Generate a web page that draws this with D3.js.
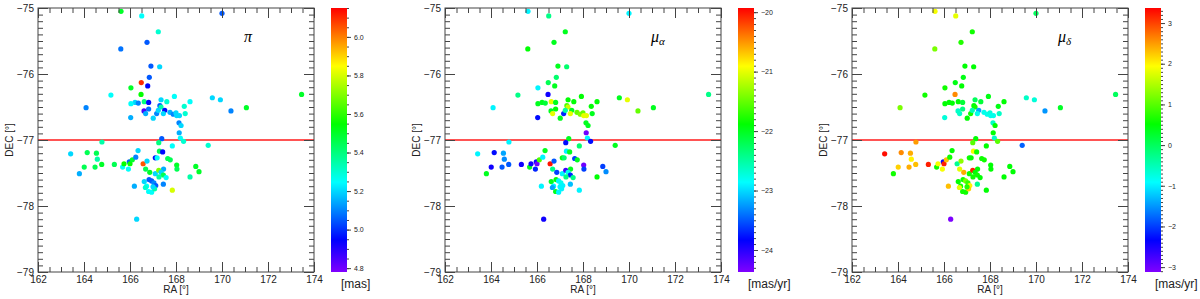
<!DOCTYPE html>
<html><head><meta charset="utf-8">
<script src="https://cdn.jsdelivr.net/npm/d3@7"></script>
<style>
html,body{margin:0;padding:0;background:#fff;}
svg{display:block;}
text{font-family:"Liberation Sans",Arial,Helvetica,sans-serif;}
</style></head>
<body>
<svg id="c" width="1200" height="299"></svg>
<script>
// ---- data ----
const ra = [165.61,166.51,170.0,167.23,166.74,165.6,166.91,167.29,166.84,166.49,166.77,166.04,166.48,165.17,166.62,166.81,166.22,166.04,166.36,164.09,167.35,167.6,167.93,168.61,169.58,169.93,170.39,171.06,167.3,167.35,166.61,166.81,166.68,166.03,167.01,167.16,167.23,167.51,167.45,167.74,167.88,168.0,168.03,168.15,168.4,168.36,168.13,168.22,168.14,168.19,167.38,168.33,164.78,167.25,167.84,169.4,173.46,
 163.42,164.14,164.54,164.58,163.8,164.01,164.48,164.77,165.32,165.68,165.74,165.97,166.0,165.93,166.1,166.25,166.35,166.19,166.29,166.57,166.74,166.68,166.86,167.1,167.18,167.28,167.42,167.64,167.75,168.03,168.04,167.46,167.1,167.25,167.35,167.45,167.57,167.26,168.61,168.86,169.0,167.84,167.45,166.62,166.83,166.94,167.04,167.12,166.72,166.67,166.81,166.94,167.07,167.0];
const dec = [-75.05,-75.12,-75.08,-75.36,-75.52,-75.62,-75.88,-75.89,-76.05,-76.13,-76.18,-76.21,-76.31,-76.32,-76.42,-76.43,-76.43,-76.45,-76.44,-76.51,-76.39,-76.42,-76.34,-76.42,-76.36,-76.39,-76.56,-76.51,-76.48,-76.5,-76.56,-76.53,-76.6,-76.66,-76.67,-76.6,-76.55,-76.55,-76.6,-76.58,-76.61,-76.59,-76.63,-76.63,-76.6,-76.49,-76.74,-76.78,-76.89,-76.97,-76.98,-77.02,-77.03,-77.04,-77.09,-77.08,-76.31,
 -77.21,-77.19,-77.2,-77.29,-77.51,-77.41,-77.41,-77.37,-77.37,-77.41,-77.36,-77.33,-77.36,-77.44,-77.3,-77.26,-77.16,-77.7,-78.2,-77.36,-77.32,-77.44,-77.49,-77.27,-77.27,-77.17,-77.18,-77.28,-77.3,-77.38,-77.44,-77.44,-77.51,-77.46,-77.49,-77.53,-77.57,-77.56,-77.56,-77.4,-77.48,-77.76,-77.67,-77.63,-77.6,-77.62,-77.65,-77.69,-77.7,-77.72,-77.78,-77.79,-77.74,-77.71];
const plx = [5.5,5.25,5.05,5.3,5.05,5.08,5.05,5.2,5.05,6.1,4.95,5.5,5.55,5.25,5.4,4.95,5.2,5.25,5.1,5.1,5.2,5.3,5.25,5.25,5.2,5.2,5.1,5.5,5.05,5.35,4.85,5.08,5.15,5.15,5.2,5.1,5.2,4.95,5.2,5.15,5.1,5.2,5.2,5.2,5.3,5.3,5.1,5.2,5.15,5.25,5.05,5.3,5.35,5.4,5.25,5.3,5.5,
 5.2,5.45,5.45,5.35,5.15,5.45,5.45,5.5,5.45,5.25,5.55,5.05,5.55,5.25,5.5,5.1,5.2,5.15,5.2,6.05,5.2,5.45,5.5,4.95,5.25,5.45,4.95,5.45,5.45,5.5,5.45,5.15,5.2,5.7,5.2,5.45,5.25,5.35,5.35,5.5,5.5,5.8,5.1,5.2,5.05,5.05,5.1,5.05,5.25,5.3,5.25,5.25,5.35,5.2];
const pmra = [-22.9,-22.4,-22.9,-22.0,-22.0,-21.9,-22.0,-22.3,-22.3,-22.2,-22.0,-22.9,-23.9,-22.4,-21.0,-22.0,-22.0,-22.0,-22.1,-22.9,-21.9,-21.9,-21.9,-21.9,-22.0,-21.0,-21.5,-22.0,-21.6,-21.1,-22.0,-21.9,-21.0,-23.8,-22.0,-23.7,-22.5,-22.0,-21.0,-21.5,-21.4,-21.5,-21.0,-21.0,-22.0,-21.9,-22.0,-22.0,-24.3,-22.9,-22.0,-23.8,-22.9,-23.8,-22.3,-22.0,-22.4,
 -22.9,-23.8,-23.2,-23.3,-22.0,-23.9,-23.5,-23.5,-23.9,-22.0,-23.9,-23.8,-24.3,-23.7,-21.6,-22.9,-22.0,-22.9,-23.9,-20.0,-23.5,-22.4,-23.6,-21.9,-22.3,-22.9,-22.0,-23.6,-22.0,-24.3,-23.6,-22.0,-22.9,-24.1,-22.8,-23.7,-22.4,-22.4,-21.9,-23.6,-23.3,-22.9,-23.1,-22.0,-21.9,-22.9,-22.8,-22.9,-22.9,-23.2,-22.0,-22.9,-22.9,-22.9];
const pmdec = [1.9,1.8,0.0,0.6,0.7,1.2,0.5,0.5,0.4,0.4,0.5,0.6,2.6,0.6,0.5,0.2,0.5,0.5,0.5,1.2,0.0,0.2,0.4,0.5,-0.6,-0.7,-1.5,0.3,0.5,0.6,-0.6,-0.2,-0.6,-0.7,0.5,0.6,-0.5,-1.4,-0.8,-0.8,-0.8,-0.7,-0.8,-0.8,-0.6,0.4,-0.6,0.5,0.5,-0.6,0.5,1.0,2.5,1.0,0.5,-1.8,0.0,
 3.3,2.6,2.4,2.0,0.6,2.2,2.4,2.3,3.2,0.6,1.9,-2.3,3.2,1.9,2.3,0.6,0.5,2.3,-3.1,-0.3,1.3,1.8,2.4,0.6,0.5,1.9,0.6,0.6,0.6,0.5,0.5,0.5,0.6,3.2,0.5,0.6,0.5,0.6,0.5,0.5,0.5,0.5,-0.3,0.5,0.6,1.2,0.8,2.0,0.6,1.8,0.6,0.6,2.2,0.7];

const xTicks = [162,164,166,168,170,172,174];
const yTicks = [-75,-76,-77,-78,-79];
const cbPlxTicks = [4.8,5.0,5.2,5.4,5.6,5.8,6.0];
const cbPmraTicks = [-24,-23,-22,-21,-20];
const cbPmdecTicks = [-3,-2,-1,0,1,2,3];
const cutDec = -77;

const panels = [
  {left:38,  vals:plx,   dom:[4.78,6.15],     ticks:cbPlxTicks,   minor:0.05, fmt:d3.format(".1f"), unit:"[mas]",    sym:"π", sub:null},
  {left:445, vals:pmra,  dom:[-24.37,-19.93], ticks:cbPmraTicks,  minor:0.1,  fmt:d3.format("d"),   unit:"[mas/yr]", sym:"μ", sub:"α"},
  {left:852, vals:pmdec, dom:[-3.12,3.37],    ticks:cbPmdecTicks, minor:0.1,  fmt:d3.format("d"),   unit:"[mas/yr]", sym:"μ", sub:"δ"}
];

const T0=8, W=276, H=264;
const svg = d3.select("#c");
const defs = svg.append("defs");
const cmapStops = [0,0.12,0.34,0.56,0.78,1];
const cmapCols = ["#8000ff","#0000ff","#00ffff","#00ff00","#ffff00","#ff0000"];
const cmap = d3.scaleLinear().domain(cmapStops).range(cmapCols).interpolate(d3.interpolateRgb).clamp(true);

const grad = defs.append("linearGradient").attr("id","rb").attr("x1",0).attr("y1",1).attr("x2",0).attr("y2",0);
cmapStops.forEach((s,i)=>grad.append("stop").attr("offset",s).attr("stop-color",cmapCols[i]));

const axCol="#444";
function range(a,b,s){const r=[];const n=Math.round((b-a)/s);for(let k=0;k<=n;k++)r.push(+(a+k*s).toFixed(4));return r;}

panels.forEach(p=>{
  const g = svg.append("g").attr("transform",`translate(${p.left},${T0})`);
  const x = d3.scaleLinear().domain([162,174]).range([0,W]);
  const y = d3.scaleLinear().domain([-75,-79]).range([0,H]);
  const c = d3.scaleLinear().domain(p.dom).range([0,1]);

  // red cut line
  g.append("line").attr("x1",0).attr("x2",W).attr("y1",y(cutDec)).attr("y2",y(cutDec))
    .attr("stroke","#ff1a1a").attr("stroke-width",1.4);

  // points
  g.append("g").selectAll("circle").data(ra.map((r,i)=>i)).join("circle")
    .attr("cx",i=>x(ra[i])).attr("cy",i=>y(dec[i])).attr("r",2.6)
    .attr("fill",i=>cmap(c(p.vals[i])));

  // axes
  const styleAx = sel=>{sel.select(".domain").remove();sel.selectAll("line").attr("stroke",axCol);
    sel.selectAll("text").attr("fill","#222").style("font-size","10px").style("font-family","'Liberation Sans',Arial,sans-serif");};
  const xMinor = range(162,174,0.5), yMinor = range(-79,-75,0.1);
  g.append("g").attr("transform",`translate(0,${H})`).call(d3.axisBottom(x).tickValues(xMinor).tickSize(-5).tickFormat("")).call(styleAx);
  g.append("g").attr("transform",`translate(0,${H})`).call(d3.axisBottom(x).tickValues(xTicks).tickSize(-10).tickPadding(4).tickFormat(d3.format("d"))).call(styleAx);
  g.append("g").call(d3.axisTop(x).tickValues(xMinor).tickSize(-5).tickFormat("")).call(styleAx);
  g.append("g").call(d3.axisTop(x).tickValues(xTicks).tickSize(-10).tickFormat("")).call(styleAx);
  g.append("g").call(d3.axisLeft(y).tickValues(yMinor).tickSize(-5).tickFormat("")).call(styleAx);
  g.append("g").call(d3.axisLeft(y).tickValues(yTicks).tickSize(-10).tickPadding(4).tickFormat(d3.format("d"))).call(styleAx);
  g.append("g").attr("transform",`translate(${W},0)`).call(d3.axisRight(y).tickValues(yMinor).tickSize(-5).tickFormat("")).call(styleAx);
  g.append("g").attr("transform",`translate(${W},0)`).call(d3.axisRight(y).tickValues(yTicks).tickSize(-10).tickFormat("")).call(styleAx);
  g.append("rect").attr("width",W).attr("height",H).attr("fill","none").attr("stroke",axCol).attr("stroke-width",1);

  // axis titles
  g.append("text").attr("x",W/2).attr("y",H+21).attr("text-anchor","middle").style("font-size","10px").attr("fill","#222").text("RA [°]");
  g.append("text").attr("transform",`translate(-25,${H/2}) rotate(-90)`).attr("text-anchor","middle").style("font-size","10px").attr("fill","#222").text("DEC [°]");

  // symbol
  const t = g.append("text").attr("x",206).attr("y",34).attr("fill","#000")
    .style("font-family","'Liberation Serif','DejaVu Serif',serif").style("font-style","italic").style("font-size","16px");
  t.append("tspan").text(p.sym);
  if(p.sub) t.append("tspan").attr("dy",3).style("font-size","11px").text(p.sub);

  // colorbar
  const cbx = W+17, cbw = 16;
  const cy = d3.scaleLinear().domain(p.dom).range([H,0]);
  g.append("rect").attr("x",cbx).attr("y",0).attr("width",cbw).attr("height",H).attr("fill","url(#rb)");
  const cg = g.append("g").attr("transform",`translate(${cbx+cbw},0)`);
  const mn = range(Math.ceil(p.dom[0]/p.minor)*p.minor, Math.floor(p.dom[1]/p.minor)*p.minor, p.minor);
  cg.call(d3.axisRight(cy).tickValues(mn).tickSize(2).tickFormat(""));
  const cg2 = g.append("g").attr("transform",`translate(${cbx+cbw},0)`);
  cg2.call(d3.axisRight(cy).tickValues(p.ticks).tickSize(4).tickPadding(3).tickFormat(p.fmt));
  [cg,cg2].forEach(s=>{s.select(".domain").remove();s.selectAll("line").attr("stroke","#444");
    s.selectAll("text").attr("fill","#222").style("font-size","7px");});
  g.append("text").attr("x",cbx+10).attr("y",H+16).style("font-size","12px").attr("fill","#222").text(p.unit);
});
</script>
</body></html>
